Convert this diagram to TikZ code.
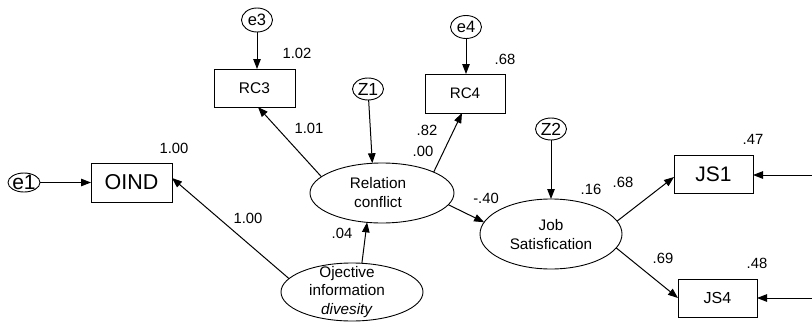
\documentclass[tikz,border=0pt]{standalone}
\usepackage{fontspec}
\setmainfont{Liberation Sans}
\usetikzlibrary{arrows.meta,shapes.geometric}
\begin{document}
\begin{tikzpicture}[x=1pt,y=-1pt,
  every node/.style={inner sep=0pt, outer sep=0pt},
  box/.style={draw, line width=0.9pt, rectangle},
  lat/.style={draw, line width=0.9pt, ellipse},
  txt/.style={align=center, font=\fontsize{15.3}{18.5}\selectfont},
  lbl/.style={font=\fontsize{14.8}{16}\selectfont},
  arr/.style={line width=1pt, -{Triangle[length=10pt,width=7.5pt]}}]
\useasboundingbox (0,0) rectangle (812,322);

% observed variables
\node[box, minimum width=81pt, minimum height=39pt, font=\fontsize{21.5}{24}\selectfont] (oind) at (131.5,182.5) {OIND};
\node[box, minimum width=81pt, minimum height=38pt, font=\fontsize{15.5}{17}\selectfont] (rc3) at (254.5,88) {RC3};
\node[box, minimum width=80pt, minimum height=39pt, font=\fontsize{15.2}{17}\selectfont] (rc4) at (465,93.5) {RC4};
\node[box, minimum width=79pt, minimum height=38pt, font=\fontsize{21}{23}\selectfont] (js1) at (713.5,174) {JS1};
\node[box, minimum width=79pt, minimum height=38pt, font=\fontsize{16}{18}\selectfont] (js4) at (717.5,298) {JS4};

% latent variables
\node[lat, minimum width=144pt, minimum height=60pt] (rc) at (382,193) {};
\node[txt] (rct) at (378,192.5) {Relation\\conflict};
\node[lat, minimum width=142pt, minimum height=58pt] (ob) at (352,292) {};
\node[txt] (obt) at (347,292) {Ojective\\information\\\textit{divesity}};
\node[lat, minimum width=142pt, minimum height=70pt] (js) at (551,234) {};
\node[txt] (jst) at (551,234.5) {Job\\Satisfication};

% error / disturbance terms
\node[lat, minimum width=32pt, minimum height=19pt] (e1) at (24,182.5) {};
\node[font=\fontsize{21}{22}\selectfont] (e1t) at (24,182.5) {e1};
\node[lat, minimum width=31pt, minimum height=24pt] (e3) at (257,20) {};
\node[font=\fontsize{16.5}{18}\selectfont] (e3t) at (257,20) {e3};
\node[lat, minimum width=31pt, minimum height=23pt] (e4) at (466,27) {};
\node[font=\fontsize{16.5}{18}\selectfont] (e4t) at (466,27) {e4};
\node[lat, minimum width=31pt, minimum height=22pt] (z1) at (368,89) {};
\node[font=\fontsize{17.5}{19}\selectfont] (z1t) at (368,89) {Z1};
\node[lat, minimum width=31pt, minimum height=22pt] (z2) at (551,129) {};
\node[font=\fontsize{17.5}{19}\selectfont] (z2t) at (551,129) {Z2};

\coordinate (r1) at (812,175);
\coordinate (r4) at (812,298);

% connectors
\draw[arr] (e1) -- (oind);
\draw[arr] (e3) -- (e3 |- rc3.north);
\draw[arr] (e4) -- (e4 |- rc4.north);
\draw[arr] (z1) -- (rc.108);
\draw[arr] (z2) -- (js);
\draw[arr] (rc.165) -- ([xshift=3.5pt]rc3.south);
\draw[arr] (rc.22) -- ([xshift=-3pt]rc4.south);
\draw[arr] (rc.-10) -- (js.170);
\draw[arr] (ob.71) -- (rc.243);
\draw[arr] (ob.168) -- ([yshift=4.5pt]oind.east);
\draw[arr] (js.11) -- ([yshift=-3pt]js1.west);
\draw[arr] (js.-12) -- (js4.west);
\draw[arr] (r1) -- (r1 -| js1.east);
\draw[arr] (r4) -- (r4 -| js4.east);

% estimates
\node[lbl] (l1) at (174,148) {1.00};
\node[lbl] (l2) at (297,53) {1.02};
\node[lbl] (l3) at (309,128) {1.01};
\node[lbl] (l4) at (427,130) {.82};
\node[lbl] (l5) at (423,151) {.00};
\node[lbl] (l6) at (505,59) {.68};
\node[lbl] (l7) at (486,198) {-.40};
\node[lbl] (l8) at (342,233) {.04};
\node[lbl] (l9) at (248,218) {1.00};
\node[lbl] (l10) at (591,189) {.16};
\node[lbl] (l11) at (623,182) {.68};
\node[lbl] (l12) at (753,139) {.47};
\node[lbl] (l13) at (663,258) {.69};
\node[lbl] (l14) at (757,263) {.48};
\end{tikzpicture}
\end{document}
